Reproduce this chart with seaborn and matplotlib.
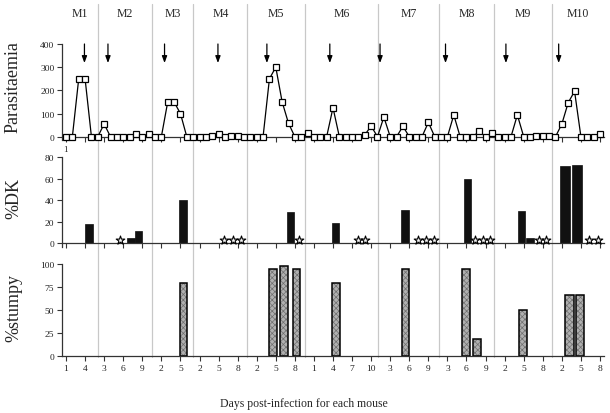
import pandas as pd
import matplotlib
matplotlib.use('Agg')
import matplotlib.pyplot as plt
import matplotlib.transforms as mtransforms
from matplotlib.lines import Line2D
import seaborn as sns

# mice, and where each mouse starts on the shared day axis
mice = ['M1', 'M2', 'M3', 'M4', 'M5', 'M6', 'M7', 'M8', 'M9', 'M10']
mouse_offset = [0, 4, 14, 20, 29, 39, 49, 58, 68, 77]
first_day = [1, 3, 1, 2, 1, 0, 2, 3, 1, 1]
tick_days = [[1, 4], [3, 6, 9], [2, 5], [2, 5, 8], [2, 5, 8],
             [1, 4, 7, 10], [3, 6, 9], [3, 6, 9], [2, 5, 8], [2, 5, 8]]

# parasitaemia, one value per day starting at first_day
par_m1 = [0, 0, 250, 250, 0, 0]
par_m2 = [55, 0, 0, 0, 0, 10, 0, 10]
par_m3 = [0, 0, 150, 150, 100, 0, 0]
par_m4 = [0, 0, 5, 10, 0, 3, 3, 0]
par_m5 = [0, 0, 0, 250, 300, 150, 58, 0, 0]
par_m6 = [16, 0, 0, 0, 125, 0, 0, 0, 0, 8, 46, 0]
par_m7 = [85, 0, 0, 45, 0, 0, 0, 62, 0, 0]
par_m8 = [0, 94, 0, 0, 0, 23, 0, 16]
par_m9 = [0, 0, 0, 94, 0, 0, 3, 3, 3]
par_m10 = [0, 55, 147, 196, 0, 0, 0, 10]
parasitaemia = [par_m1, par_m2, par_m3, par_m4, par_m5,
                par_m6, par_m7, par_m8, par_m9, par_m10]

# arrows (day of each mouse)
arrow_day = [3.9, 3.6, 2.5, 4.9, 3.6, 3.5, 1.4, 2.7, 2.2, 1.5]

# %DK bars: mouse index, day, value
dk_mouse = [0, 1, 1, 2, 4, 5, 6, 7, 8, 8, 9, 9]
dk_day = [4.65, 7.25, 8.4, 5.4, 7.3, 4.4, 5.35, 6.15, 4.65, 6.0, 2.5, 4.4]
dk_pct = [18, 5, 11, 40, 29, 19, 31, 60, 30, 5, 72, 73]

# stars = no DK cells seen
star_mouse = [1, 3, 3, 3, 4, 5, 5, 6, 6, 6, 7, 7, 7, 8, 8, 9, 9]
star_day = [5.5, 5.9, 7.2, 8.5, 8.7, 8.0, 9.0, 7.4, 8.7, 9.9, 7.4, 8.6, 9.7, 7.4, 8.5, 6.3, 7.7]

# %stumpy bars
stumpy_mouse = [2, 4, 4, 4, 5, 6, 7, 7, 8, 9, 9]
stumpy_day = [5.5, 4.55, 6.25, 8.25, 4.5, 5.4, 5.9, 7.65, 4.9, 3.15, 4.85]
stumpy_pct = [79, 94, 97, 94, 79, 94, 94, 19, 50, 66, 66]

# grey lines between mice (day axis)
separators = [5.98, 14.58, 21.03, 29.52, 38.6, 50.03, 59.72, 68.37, 77.4]

sns.set_style('ticks')
plt.rcParams['font.family'] = ['Liberation Serif', 'DejaVu Serif']
plt.rcParams['hatch.linewidth'] = 0.5

W, H = 610, 414
fig = plt.figure(figsize=(W / 100, H / 100), dpi=100)


def box(x0, y0, x1, y1):
    return [x0 / W, 1 - y1 / H, (x1 - x0) / W, (y1 - y0) / H]


ax1 = fig.add_axes(box(62, 45, 604, 141.2))
ax2 = fig.add_axes(box(62, 158.3, 604, 248.3))
ax3 = fig.add_axes(box(62, 264.7, 604, 357.3))
xlim = (0.37, 85.63)

# parasitaemia line
rows = []
for name, off, d0, vals in zip(mice, mouse_offset, first_day, parasitaemia):
    for i, v in enumerate(vals):
        rows.append({'mouse': name, 'day': off + d0 + i, 'parasitaemia': v})
par_df = pd.DataFrame(rows)
sns.lineplot(data=par_df, x='day', y='parasitaemia', ax=ax1, color='black',
             lw=0.9, marker='s', markersize=4.8, markerfacecolor='white',
             markeredgecolor='black', markeredgewidth=0.9, sort=False,
             estimator=None, clip_on=False, zorder=3)

for off, d in zip(mouse_offset, arrow_day):
    ax1.annotate('', xy=(off + d, 318), xytext=(off + d, 400),
                 arrowprops=dict(arrowstyle='-|>,head_length=0.4,head_width=0.15',
                                 color='black', lw=0.9, shrinkA=0, shrinkB=0))

# %DK
dk_x = [mouse_offset[m] + d for m, d in zip(dk_mouse, dk_day)]
dk_w = [1.55 if m == 9 else 1.22 for m in dk_mouse]
ax2.bar(dk_x, dk_pct, width=dk_w, color='#111111', edgecolor='#111111', lw=0.5)
star_x = [mouse_offset[m] + d for m, d in zip(star_mouse, star_day)]
ax2.scatter(star_x, [2.8] * len(star_x), marker='*', s=42, facecolor='#f4f4f4',
            edgecolor='black', lw=0.8, clip_on=False, zorder=3)

# %stumpy
st_x = [mouse_offset[m] + d for m, d in zip(stumpy_mouse, stumpy_day)]
st_w = [1.4 if m == 9 else 1.2 for m in stumpy_mouse]
ax3.bar(st_x, stumpy_pct, width=st_w, color='#b0b0b0', hatch='xxxxxx',
        edgecolor='#707070', lw=0)
ax3.bar(st_x, stumpy_pct, width=st_w, fill=False, edgecolor='black', lw=1.1)

# axes styling
tick_pos = [off + d for off, days in zip(mouse_offset, tick_days) for d in days]
tick_lab = [str(d) for days in tick_days for d in days]
for ax, ylim, yt in [(ax1, (-15, 400), [0, 100, 200, 300, 400]),
                     (ax2, (-4, 80), [0, 20, 40, 60, 80]),
                     (ax3, (0, 100), [0, 25, 50, 75, 100])]:
    ax.set_facecolor('none')
    ax.set_xlim(xlim)
    ax.set_ylim(ylim)
    ax.set_yticks(yt)
    ax.set_xticks(tick_pos)
    ax.set_xticklabels(tick_lab)
    sns.despine(ax=ax)
    ax.spines['bottom'].set_position(('data', 0))
    for s in ['left', 'bottom']:
        ax.spines[s].set_color('#333333')
        ax.spines[s].set_linewidth(0.9)
    ax.tick_params(length=3.5, width=0.8, color='#333333', labelsize=6.8,
                   labelcolor='#222222', pad=2)
    ax.set_xlabel('')
    ax.set_ylabel('')
ax1.tick_params(labelbottom=False)
ax2.tick_params(labelbottom=False)

# separators across all panels
trans = mtransforms.blended_transform_factory(ax3.transData, fig.transFigure)
for s in separators:
    fig.add_artist(Line2D([s, s], [1 - 5 / H, 1 - 358 / H], transform=trans,
                          color='#c8c8c8', lw=0.9, zorder=-1))

# mouse names
bounds = [xlim[0]] + separators + [xlim[1]]
for i, name in enumerate(mice):
    fig.text((bounds[i] + bounds[i + 1]) / 2, 1 - 14 / H, name, transform=trans,
             ha='center', va='center', fontsize=8.5)

fig.text(13.5 / W, 1 - 87 / H, 'Parasitaemia', rotation=90, ha='center',
         va='center', fontsize=13)
fig.text(13.5 / W, 1 - 199 / H, '%DK', rotation=90, ha='center', va='center',
         fontsize=13)
fig.text(13.5 / W, 1 - 308 / H, '%stumpy', rotation=90, ha='center',
         va='center', fontsize=13)
fig.text(65 / W, 1 - 150 / H, '1', ha='center', va='center', fontsize=6.5,
         color='#222222')
fig.text(304 / W, 1 - 404 / H, 'Days post-infection for each mouse',
         ha='center', va='center', fontsize=8.5)

fig.savefig('out.png', dpi=100)
